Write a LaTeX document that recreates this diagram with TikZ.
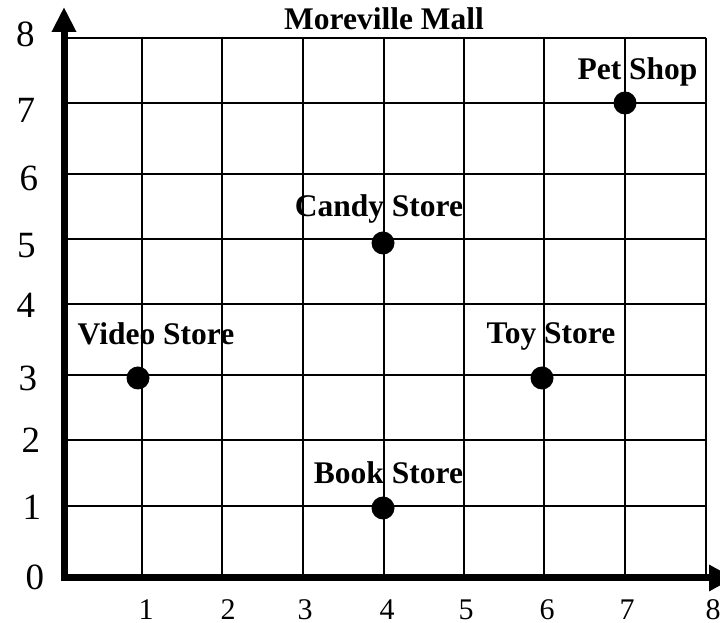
\documentclass[tikz,border=0pt]{standalone}
\usepackage{fontspec}
\setmainfont{Liberation Serif}
\usetikzlibrary{arrows.meta,calc}

\tikzset{
  gridline/.style={line width=2.2pt},
  axisline/.style={line width=7pt, line join=miter},
  storedot/.style={circle, fill=black, inner sep=0pt, minimum size=23pt},
  storelabel/.style={anchor=base, inner sep=0pt, font=\fontsize{31.5}{36}\selectfont\bfseries},
  xticklabel/.style={inner sep=0pt, font=\fontsize{30}{34}\selectfont},
  yticklabel/.style={inner sep=0pt, font=\fontsize{37}{42}\selectfont}
}

\begin{document}
\begin{tikzpicture}[x=1pt, y=1pt]
  \useasboundingbox[fill=white] (-64,-45) rectangle (656,578);

  \foreach \xx in {78,158,239,320,400,480,561,642}
    \draw[gridline] (\xx,0) -- (\xx,540);
  \foreach \yy in {72,138,203,274,339,404,475,540}
    \draw[gridline] (0,\yy) -- (642,\yy);

  \coordinate (ytip) at (0,571);
  \coordinate (origin) at (0,0);
  \coordinate (xtip) at (670,0);
  \draw[axisline, {Triangle[length=25pt,width=23pt]}-{Triangle[length=25pt,width=25pt]}]
    (ytip) -- (origin) -- (xtip);

  \foreach \n/\xx in {1/82,2/164,3/241,4/323,5/402,6/483,7/563,8/649}
    \node[xticklabel] (xtick\n) at (\xx,-32) {\n};
  \foreach \n/\xx/\yy in {0/-29/1,1/-32/71,2/-33/138,3/-36/200,4/-38/273,5/-37.5/332,6/-35/400,7/-38/468,8/-38.5/544}
    \node[yticklabel] (ytick\n) at (\xx,\yy) {\n};

  \node[storelabel] (title) at (320,548) {Moreville Mall};

  \foreach \name/\px/\py/\dx/\dy/\txt in {
      pet/561/475/12.5/23/Pet Shop,
      candy/319/335/-4/26/Candy Store,
      video/74/200/18/33/Video Store,
      toy/478/200/9/34/Toy Store,
      book/319/70/5.5/24/Book Store}{
    \node[storedot] (\name) at (\px,\py) {};
    \node[storelabel] (\name-label) at ($(\name)+(\dx,\dy)$) {\txt};
  }
\end{tikzpicture}
\end{document}
